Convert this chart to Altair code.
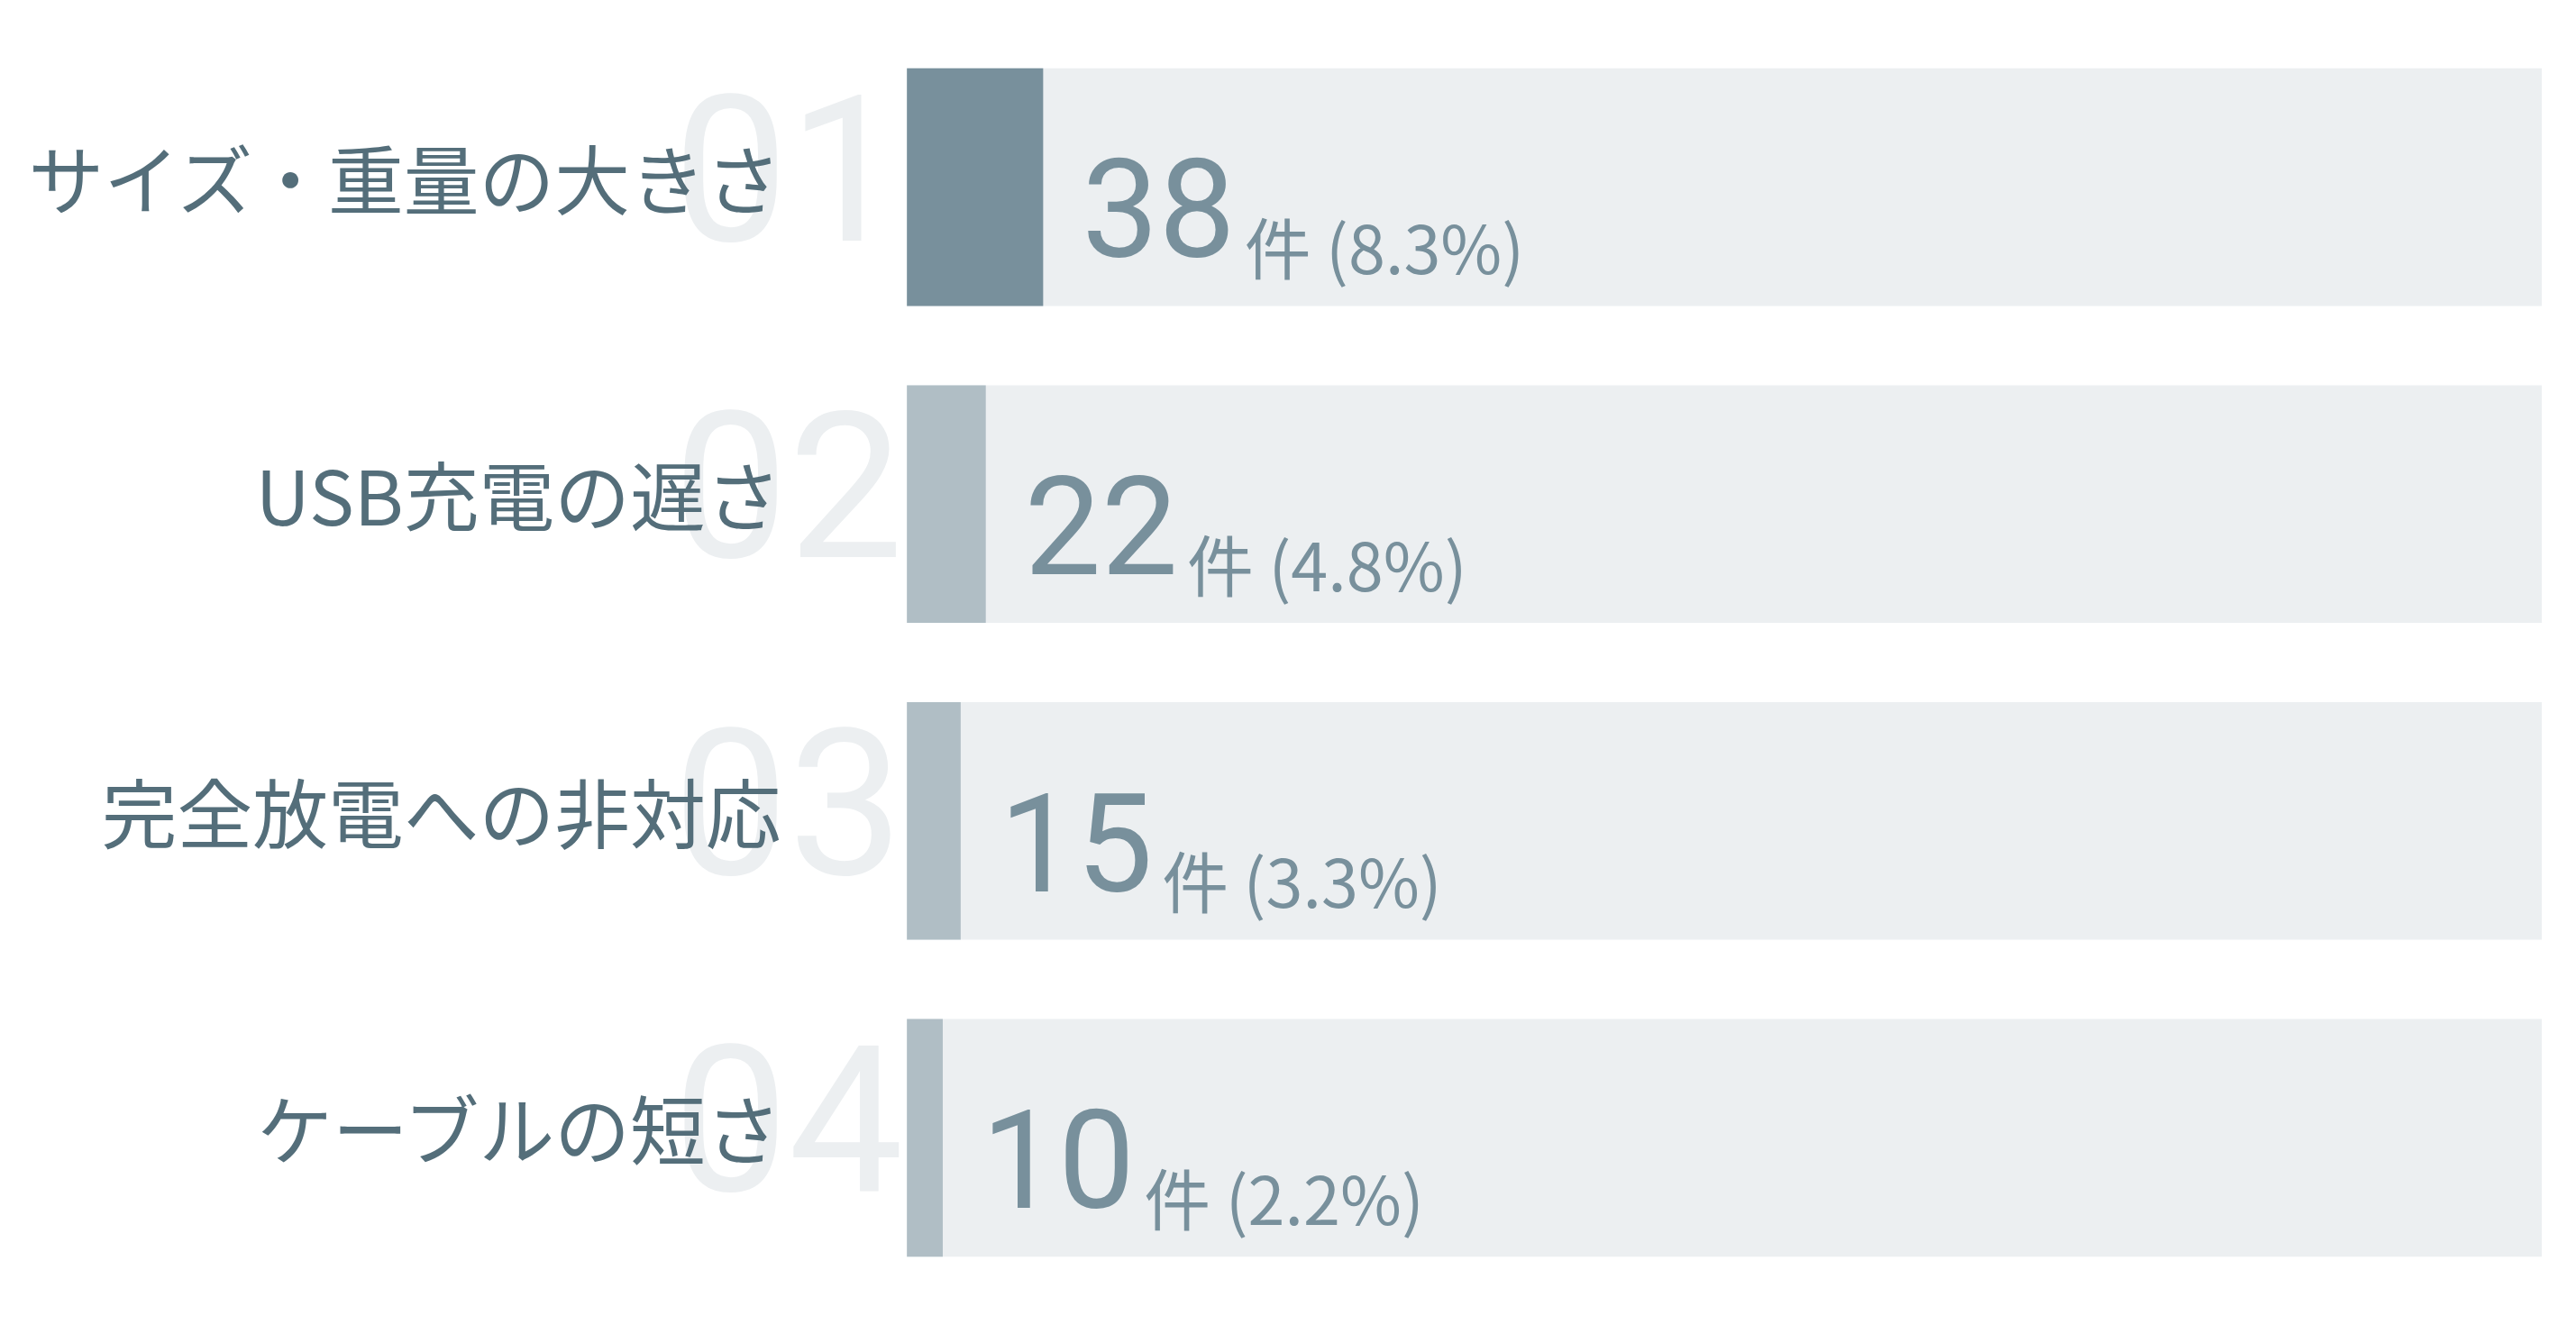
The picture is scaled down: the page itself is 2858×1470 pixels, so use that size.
import altair as alt
import pandas as pd

# ---- data ----
categories = ["サイズ・重量の大きさ", "USB充電の遅さ", "完全放電への非対応", "ケーブルの短さ"]
ranks = ["01", "02", "03", "04"]
counts = [38, 22, 15, 10]
percents = [8.3, 4.8, 3.3, 2.2]
total = 456

df = pd.DataFrame({
    "category": categories,
    "rank": ranks,
    "count": counts,
    "pct": percents,
})
df["total"] = total
df["top"] = [i == 0 for i in range(len(df))]
df["sub"] = [f"件 ({p}%)" for p in percents]

FONT = "Noto Sans CJK JP"
DIGITS = "Roboto"

y_enc = alt.Y("category:N", sort=categories, axis=None,
              scale=alt.Scale(paddingInner=0.25, paddingOuter=0))
x_scale = alt.Scale(domain=[0, total], nice=False, zero=True)

base = alt.Chart(df)

track = base.mark_bar(color="#eceff1").encode(
    x=alt.X("total:Q", scale=x_scale, axis=None),
    y=y_enc,
)

fill = base.mark_bar().encode(
    x=alt.X("count:Q", scale=x_scale, axis=None),
    y=y_enc,
    color=alt.Color("top:N", scale=alt.Scale(domain=[True, False], range=["#78909c", "#b0bec5"]), legend=None),
)

rank_text = base.mark_text(
    align="right", baseline="alphabetic", font=DIGITS, fontSize=228,
    color="#eceff1", dx=-4, dy=59,
).encode(
    x=alt.value(0),
    y=y_enc,
    text="rank:N",
)

label_text = base.mark_text(
    align="right", baseline="alphabetic", font=FONT, fontSize=84,
    color="#546e7a", dx=-140, dy=24,
).encode(
    x=alt.value(0),
    y=y_enc,
    text="category:N",
)

value_text = base.mark_text(
    align="left", baseline="alphabetic", font=DIGITS, fontSize=152,
    color="#78909c", dx=43, dy=78,
).encode(
    x=alt.X("count:Q", scale=x_scale, axis=None),
    y=y_enc,
    text="count:Q",
)

sub_text = base.mark_text(
    align="left", baseline="alphabetic", font=FONT, fontSize=74,
    color="#78909c", dx=224, dy=97,
).encode(
    x=alt.X("count:Q", scale=x_scale, axis=None),
    y=y_enc,
    text="sub:N",
)

chart = alt.layer(track, fill, rank_text, label_text, value_text, sub_text).properties(
    width=1819,
    height=1322,
    background="white",
    autosize=alt.AutoSizeParams(type="none"),
    padding={"left": 1001, "top": 66, "right": 30, "bottom": 66},
).configure_view(stroke=None, strokeWidth=0)

chart.save("out.html", embed_options={"renderer": "svg", "actions": False})
